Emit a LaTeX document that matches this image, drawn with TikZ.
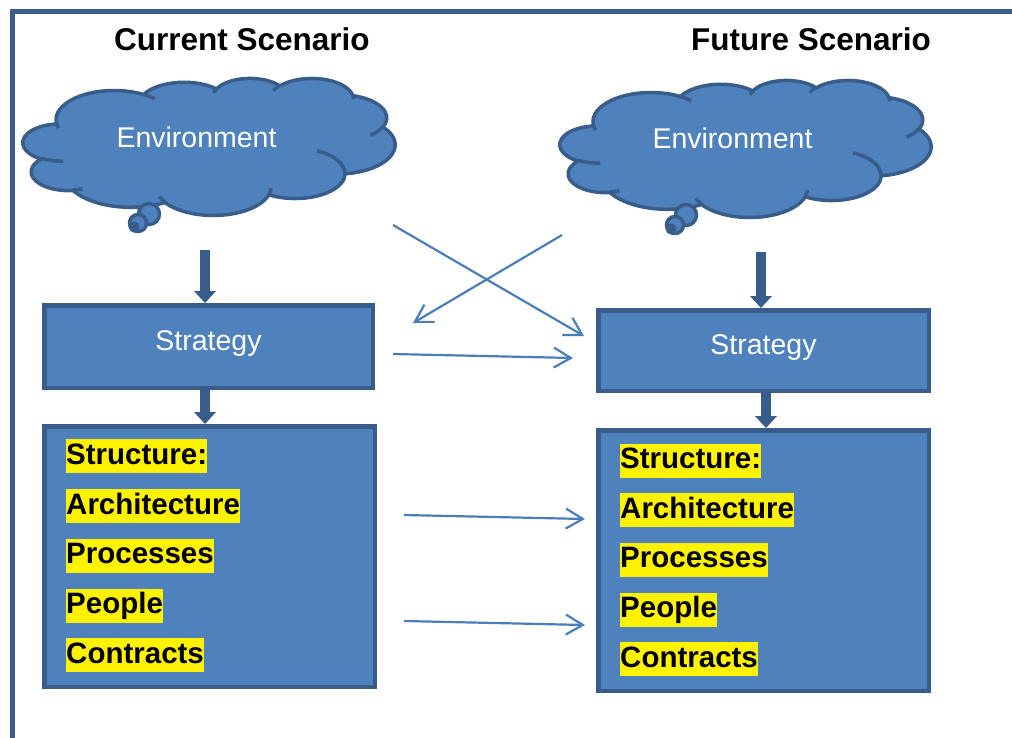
\documentclass[tikz,border=0pt]{standalone}
\usepackage{fontspec}
\setmainfont{Liberation Sans}
\usetikzlibrary{arrows.meta}

\definecolor{shapefill}{RGB}{79,129,189}
\definecolor{shapeline}{RGB}{56,93,138}
\definecolor{linkline}{RGB}{74,126,187}
\definecolor{framecol}{RGB}{58,94,140}

% One lobe of the cloud: x radius, y radius, start angle, sweep.
% The angles are the ones seen on the ellipse; ptang turns them into
% the parameter angle that TikZ's arc expects.
\newcommand\cloudarc[4]{%
  \pgfextra{%
    \pgfmathparse{ptang(#3,#1,#2)}\global\let\cloudS\pgfmathresult
    \pgfmathparse{ptang(#3+#4,#1,#2)}\global\let\cloudE\pgfmathresult}%
  arc[x radius=#1, y radius=#2, start angle=\cloudS, end angle=\cloudE]}

% Cloud outline on a 43.2 x 43.2 grid
\newcommand\cloudoutline{%
  (3.900,14.370)
  \cloudarc{6.753}{9.190}{-190.4875}{123.7805}
  \cloudarc{5.333}{7.267}{-144.1024}{89.9452}
  \cloudarc{4.365}{5.945}{-145.8079}{99.7230}
  \cloudarc{4.857}{6.595}{-130.9861}{117.2417}
  \cloudarc{5.333}{7.273}{-78.7089}{109.0269}
  \cloudarc{6.775}{9.220}{-46.2673}{130.2690}
  \cloudarc{5.785}{7.867}{0.6250}{114.0333}
  \cloudarc{6.752}{9.215}{22.4516}{115.1726}
  \cloudarc{7.720}{10.543}{66.2426}{75.7110}
  \cloudarc{4.360}{5.918}{-274.9421}{146.7356}
  \cloudarc{4.345}{5.945}{-246.8285}{152.5189}
  -- cycle}

% Short creases where the lobes meet
\newcommand\cloudcreases{%
  (4.693,26.177) \cloudarc{4.345}{5.945}{86.7420}{26.4295}
  (6.928,34.899) \cloudarc{4.360}{5.918}{73.6105}{11.4475}
  (16.478,39.090) \cloudarc{6.752}{9.215}{137.6242}{14.0811}
  (28.827,34.751) \cloudarc{6.752}{9.215}{6.4533}{15.9984}
  (34.129,22.954) \cloudarc{5.785}{7.867}{-70.2924}{70.9174}
  (41.798,15.354) \cloudarc{5.333}{7.273}{30.3180}{27.7515}
  (38.324,5.426) \cloudarc{4.857}{6.595}{-13.7443}{14.8589}
  (29.078,3.952) \cloudarc{4.857}{6.595}{-149.1815}{18.1954}
  (22.141,4.720) \cloudarc{4.365}{5.945}{-163.4943}{17.6864}
  (14.000,5.192) \cloudarc{6.753}{9.190}{-66.7070}{12.3194}
  (4.127,15.789) \cloudarc{6.753}{9.190}{157.6544}{11.8582}}

\begin{document}
\begin{tikzpicture}[x=1pt,y=-1pt,
  declare function={ptang(\ang,\rw,\rh)=\ang+(atan2(\rw*sin(\ang),\rh*cos(\ang))-\ang)-360*round((atan2(\rw*sin(\ang),\rh*cos(\ang))-\ang)/360);},
  cloudbody/.style={fill=shapefill, draw=shapeline, line width=3.5pt, line join=round},
  cloudcrease/.style={draw=shapeline, line width=3.5pt},
  bubble/.style={fill=shapefill, draw=shapeline, line width=3.5pt},
  panel/.style={draw=shapeline, fill=shapefill, line width=4.5pt, inner sep=0pt},
  heading/.style={font=\fontsize{31.5}{36}\selectfont\bfseries, anchor=base, inner sep=0pt},
  cloudtext/.style={font=\fontsize{28.5}{34}\selectfont, text=white, anchor=base, inner sep=0pt},
  striptext/.style={font=\fontsize{28.5}{34}\selectfont, text=white, text height=20pt, text depth=13pt},
  item/.style={font=\fontsize{29.5}{34}\selectfont\bfseries, fill=yellow, inner sep=0pt,
    text height=25pt, text depth=9pt, anchor=north west},
  blockarrow/.style={draw=shapeline, line width=10pt,
    -{Triangle[length=12pt, width=22pt, line width=0pt]}},
  link/.style={draw=linkline, line width=2.2pt, -{Straight Barb[length=17pt, width=20pt]}},
]
\useasboundingbox (0,0) rectangle (1012,737);

% page frame
\draw[framecol, line width=5pt] (12,745) -- (12,11.5) -- (1020,11.5);

% column headings
\node[heading] (curHead) at (242,50) {Current Scenario};
\node[heading] (futHead) at (811,50) {Future Scenario};

% environment clouds with their thought bubbles
\begin{scope}[shift={(23,78)}, xscale=8.6111, yscale=3.1713]
  \filldraw[cloudbody] \cloudoutline;
  \draw[cloudcrease] \cloudcreases;
\end{scope}
\draw[bubble] (149,214) circle[radius=10.5];
\draw[bubble] (138,223) circle[radius=8.5];
\fill[shapeline] (134,227) circle[radius=5.5];
\node[cloudtext] (envLtext) at (196.5,147) {Environment};

\begin{scope}[shift={(560,80)}, xscale=8.588, yscale=3.1713]
  \filldraw[cloudbody] \cloudoutline;
  \draw[cloudcrease] \cloudcreases;
\end{scope}
\draw[bubble] (686,215) circle[radius=10.5];
\draw[bubble] (675,225) circle[radius=8.5];
\fill[shapeline] (671,229) circle[radius=5.5];
\node[cloudtext] (envRtext) at (732.5,148) {Environment};

% strategy and structure panels
\node[panel, striptext, minimum width=328.5pt, minimum height=82.5pt] (stratL) at (208.5,346.5) {Strategy};
\node[panel, striptext, minimum width=330.5pt, minimum height=80.5pt] (stratR) at (763.5,350.5) {Strategy};
\node[panel, minimum width=330.5pt, minimum height=260.5pt] (structL) at (209.5,556.5) {};
\node[panel, minimum width=330.5pt, minimum height=260.5pt] (structR) at (763.5,560.5) {};

\foreach \t [count=\i from 0] in {Structure:,Architecture,Processes,People,Contracts}{
  \node[item] (itemL\i) at (66,439+49.8*\i) {\t};
  \node[item] (itemR\i) at (620,443.5+49.6*\i) {\t};
}

% block arrows down each column
\coordinate (envLfoot) at (205,250);
\coordinate (envRfoot) at (761,252);
\coordinate (stemR) at (766,0);
\draw[blockarrow] (envLfoot) -- (envLfoot |- stratL.north);
\draw[blockarrow] (stratL.south -| envLfoot) -- (structL.north -| envLfoot);
\draw[blockarrow] (envRfoot) -- (envRfoot |- stratR.north);
\draw[blockarrow] (stratR.south -| stemR) -- (structR.north -| stemR);

% links between the scenarios
\coordinate (s1a) at (393,354);  \coordinate (s1b) at (573,358);
\coordinate (c1a) at (393,225);  \coordinate (c1b) at (584,336);
\coordinate (c2a) at (562,235);  \coordinate (c2b) at (413,323);
\coordinate (r1a) at (404,515);  \coordinate (r1b) at (585,519);
\coordinate (r2a) at (404,621);  \coordinate (r2b) at (585,625);
\draw[link] (s1a) -- (s1b);
\draw[link] (c1a) -- (c1b);
\draw[link] (c2a) -- (c2b);
\draw[link] (r1a) -- (r1b);
\draw[link] (r2a) -- (r2b);
\end{tikzpicture}
\end{document}
